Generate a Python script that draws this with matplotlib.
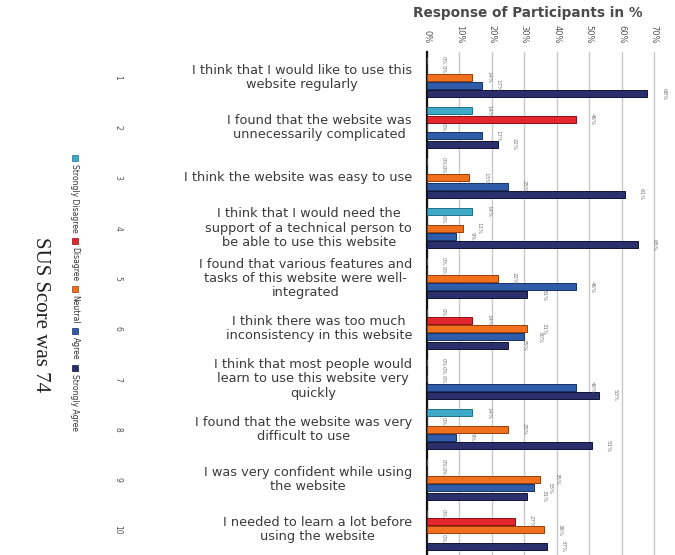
import numpy as np
import matplotlib.pyplot as plt
from matplotlib.patches import Rectangle

# SUS questionnaire responses, percent of participants per answer
questions = [
    "I think that I would like to use this\nwebsite regularly",
    "I found that the website was\nunnecessarily complicated",
    "I think the website was easy to use",
    "I think that I would need the\nsupport of a technical person to\nbe able to use this website",
    "I found that various features and\ntasks of this website were well-\nintegrated",
    "I think there was too much\ninconsistency in this website",
    "I think that most people would\nlearn to use this website very\nquickly",
    "I found that the website was very\ndifficult to use",
    "I was very confident while using\nthe website",
    "I needed to learn a lot before\nusing the website",
]
answers = ["Strongly Disagree", "Disagree", "Neutral", "Agree", "Strongly Agree"]
strongly_disagree = [0, 14, 0, 14, 0, 0, 0, 14, 0, 0]
disagree = [0, 46, 0, 0, 0, 14, 0, 0, 0, 27]
neutral = [14, 0, 13, 11, 22, 31, 0, 25, 35, 36]
agree = [17, 17, 25, 9, 46, 30, 46, 9, 33, 0]
strongly_agree = [68, 22, 61, 65, 31, 25, 53, 51, 31, 37]
x_ticks = [0, 10, 20, 30, 40, 50, 60, 70]
sus_score = 74

series = [strongly_disagree, disagree, neutral, agree, strongly_agree]
colors = ["#3FA9C9", "#E3262B", "#F0701E", "#2F5CA8", "#2B2F6C"]
edges = ["#1F6F88", "#8A1216", "#9A3E0A", "#17316A", "#101235"]

fig = plt.figure(figsize=(6.75, 5.55), dpi=100)
ax = fig.add_axes([427 / 675, 0.0, 1 - 427 / 675, 1 - 52 / 555])

y = np.arange(len(questions))
step = 0.165
h = 0.14
for j, (vals, c, ec) in enumerate(zip(series, colors, edges)):
    pos = y + (j - 2) * step
    ax.barh(pos, vals, height=h, color=c, edgecolor=ec, linewidth=0.7, zorder=3)
    for p, v in zip(pos, vals):
        ax.text(v + 5, p, f"{v}%", rotation=-90, ha="center", va="center",
                fontsize=4.0, color="#777777", zorder=4)

ax.set_xlim(0, 76.5)
ax.set_ylim(len(questions) - 0.5, -0.5)
ax.xaxis.tick_top()
ax.set_xticks(x_ticks)
ax.set_xticklabels([f"{t}%" for t in x_ticks], rotation=-90, fontsize=6,
                   color="#555555")
ax.tick_params(axis="x", length=0, pad=6)
ax.set_yticks([])
ax.grid(axis="x", color="#c8c8c8", linewidth=1.0, zorder=0)
for s in ["top", "right", "bottom"]:
    ax.spines[s].set_visible(False)
ax.spines["left"].set_color("#111111")
ax.spines["left"].set_linewidth(1.6)

# question texts and numbers left of the bars
for i, q in enumerate(questions):
    yf = ax.transData.transform((0, i))[1]
    yfig = yf / fig.bbox.height
    fig.text(412 / 675, yfig, q, ha="right", va="center", multialignment="center",
             fontsize=9.3, color="#3a3a3a", linespacing=1.12)
    fig.text(118 / 675, yfig, str(i + 1), ha="center", va="center",
             rotation=-90, fontsize=5.5, color="#555555")

fig.text(528 / 675, 1 - 13 / 555, "Response of Participants in %", ha="center",
         va="center", fontsize=9.8, fontweight="semibold", color="#4a4a4a")

fig.text(40 / 675, 1 - 315 / 555, f"SUS Score was {sus_score}", rotation=-90,
         ha="center", va="center", fontsize=15, family="Liberation Serif",
         color="#222222")

# vertical legend drawn as rotated entries
renderer = fig.canvas.get_renderer()
W, H = fig.bbox.width, fig.bbox.height
ytop = 155
lx = 75
for name, c, ec in zip(answers, colors, edges):
    fig.add_artist(Rectangle(((lx - 3) / W, 1 - (ytop + 6) / H), 6 / W, 6 / H,
                             transform=fig.transFigure, facecolor=c,
                             edgecolor=ec, linewidth=0.5))
    t = fig.text(lx / W, 1 - (ytop + 9) / H, name, rotation=-90, ha="center",
                 va="top", fontsize=5.5, color="#333333")
    bb = t.get_window_extent(renderer)
    ytop = ytop + 9 + bb.height + 5

fig.savefig("out.png", dpi=100)
